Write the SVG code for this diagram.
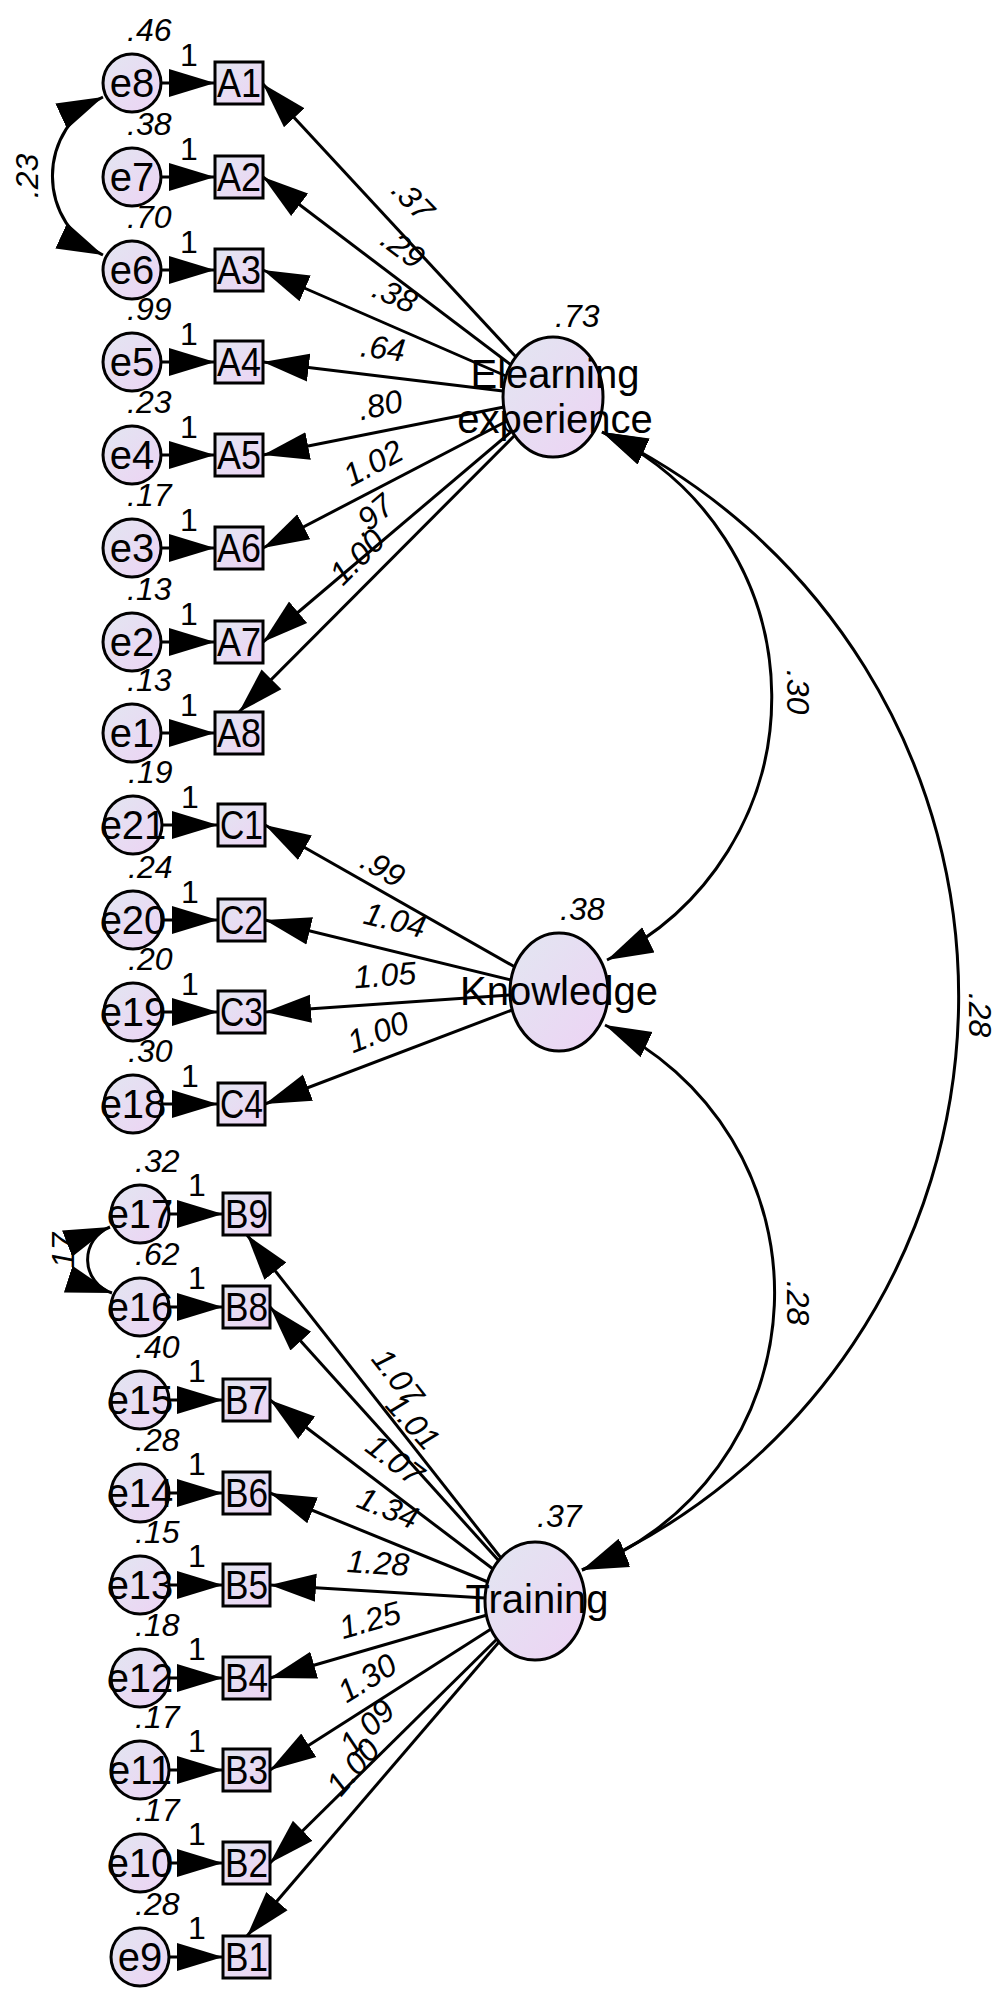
<svg xmlns="http://www.w3.org/2000/svg" width="1000" height="2001" viewBox="0 0 1000 2001">
<defs>
<linearGradient id="g" x1="0" y1="0" x2="1" y2="1">
<stop offset="0" stop-color="#e2e6f1"/>
<stop offset="1" stop-color="#edd3f4"/>
</linearGradient>
<marker id="ah" markerUnits="userSpaceOnUse" markerWidth="48" markerHeight="30" refX="46" refY="15" orient="auto-start-reverse">
<path d="M0,1 L46,15 L0,29 Z" fill="#000"/>
</marker>
</defs>
<style>
.ln{stroke:#000;stroke-width:3;fill:none;marker-end:url(#ah)}
.cv{stroke:#000;stroke-width:3;fill:none;marker-start:url(#ah);marker-end:url(#ah)}
.nd{fill:url(#g);stroke:#000;stroke-width:3}
text{font-family:"Liberation Sans",Arial,sans-serif;fill:#000}
.lb{font-size:40px;text-anchor:middle}
.nm{font-size:32px;font-style:italic}
.nc{font-size:32px;font-style:italic;text-anchor:middle}
.one{font-size:32px;text-anchor:middle}
</style>
<rect width="1000" height="2001" fill="#fff"/>

<g id="connectors">
<!-- error to indicator -->
<path class="ln" d="M161 83H215"/><path class="ln" d="M161 177H215"/><path class="ln" d="M161 270H215"/><path class="ln" d="M161 362H215"/>
<path class="ln" d="M161 455H215"/><path class="ln" d="M161 548H215"/><path class="ln" d="M161 642H215"/><path class="ln" d="M161 733H215"/>
<path class="ln" d="M162 825H218"/><path class="ln" d="M162 920H218"/><path class="ln" d="M162 1012H218"/><path class="ln" d="M162 1104H218"/>
<path class="ln" d="M169 1214H223"/><path class="ln" d="M169 1307H223"/><path class="ln" d="M169 1400H223"/><path class="ln" d="M169 1493H223"/>
<path class="ln" d="M169 1585H223"/><path class="ln" d="M169 1678H223"/><path class="ln" d="M169 1770H223"/><path class="ln" d="M169 1863H223"/><path class="ln" d="M169 1957H223"/>
<!-- Elearning loadings -->
<path class="ln" d="M516 357L263 84"/>
<path class="ln" d="M511 365L263 177"/>
<path class="ln" d="M506 376L263 270"/>
<path class="ln" d="M503 391L263 362"/>
<path class="ln" d="M504 407L263 455"/>
<path class="ln" d="M507 421L263 548"/>
<path class="ln" d="M512 431L263 642"/>
<path class="ln" d="M515 435L239 712"/>
<!-- Knowledge loadings -->
<path class="ln" d="M515 967L265 825"/>
<path class="ln" d="M511 980L265 920"/>
<path class="ln" d="M510 995L265 1012"/>
<path class="ln" d="M512 1010L265 1104"/>
<!-- Training loadings -->
<path class="ln" d="M501 1558L247 1235"/>
<path class="ln" d="M499 1561L270 1307"/>
<path class="ln" d="M493 1569L270 1400"/>
<path class="ln" d="M488 1582L270 1493"/>
<path class="ln" d="M485 1598L270 1585"/>
<path class="ln" d="M487 1615L270 1678"/>
<path class="ln" d="M491 1629L270 1770"/>
<path class="ln" d="M497 1639L270 1863"/>
<path class="ln" d="M499 1642L247 1936"/>
<!-- covariances -->
<path class="cv" d="M602 432A292 292 0 0 1 607 960"/>
<path class="cv" d="M605 1025A296 296 0 0 1 582 1570"/>
<path class="cv" d="M602 432A625 625 0 0 1 582 1570"/>
<path class="cv" d="M103 97A87 87 0 0 0 103 255"/>
<path class="cv" d="M110 1227A35 35 0 0 0 112 1293"/>
</g>

<g id="e8"><circle class="nd" cx="132" cy="83" r="29"/><text class="lb" x="132" y="97">e8</text><text class="nm" x="127" y="41">.46</text><text class="one" x="189" y="66">1</text></g>
<g id="e7"><circle class="nd" cx="132" cy="177" r="29"/><text class="lb" x="132" y="191">e7</text><text class="nm" x="127" y="135">.38</text><text class="one" x="189" y="160">1</text></g>
<g id="e6"><circle class="nd" cx="132" cy="270" r="29"/><text class="lb" x="132" y="284">e6</text><text class="nm" x="127" y="228">.70</text><text class="one" x="189" y="253">1</text></g>
<g id="e5"><circle class="nd" cx="132" cy="362" r="29"/><text class="lb" x="132" y="376">e5</text><text class="nm" x="127" y="320">.99</text><text class="one" x="189" y="345">1</text></g>
<g id="e4"><circle class="nd" cx="132" cy="455" r="29"/><text class="lb" x="132" y="469">e4</text><text class="nm" x="127" y="413">.23</text><text class="one" x="189" y="438">1</text></g>
<g id="e3"><circle class="nd" cx="132" cy="548" r="29"/><text class="lb" x="132" y="562">e3</text><text class="nm" x="127" y="506">.17</text><text class="one" x="189" y="531">1</text></g>
<g id="e2"><circle class="nd" cx="132" cy="642" r="29"/><text class="lb" x="132" y="656">e2</text><text class="nm" x="127" y="600">.13</text><text class="one" x="189" y="625">1</text></g>
<g id="e1"><circle class="nd" cx="132" cy="733" r="29"/><text class="lb" x="132" y="747">e1</text><text class="nm" x="127" y="691">.13</text><text class="one" x="189" y="716">1</text></g>
<g id="e21"><circle class="nd" cx="133" cy="825" r="29"/><text class="lb" x="133" y="839">e21</text><text class="nm" x="128" y="783">.19</text><text class="one" x="190" y="808">1</text></g>
<g id="e20"><circle class="nd" cx="133" cy="920" r="29"/><text class="lb" x="133" y="934">e20</text><text class="nm" x="128" y="878">.24</text><text class="one" x="190" y="903">1</text></g>
<g id="e19"><circle class="nd" cx="133" cy="1012" r="29"/><text class="lb" x="133" y="1026">e19</text><text class="nm" x="128" y="970">.20</text><text class="one" x="190" y="995">1</text></g>
<g id="e18"><circle class="nd" cx="133" cy="1104" r="29"/><text class="lb" x="133" y="1118">e18</text><text class="nm" x="128" y="1062">.30</text><text class="one" x="190" y="1087">1</text></g>
<g id="e17"><circle class="nd" cx="140" cy="1214" r="29"/><text class="lb" x="140" y="1228">e17</text><text class="nm" x="135" y="1172">.32</text><text class="one" x="197" y="1196">1</text></g>
<g id="e16"><circle class="nd" cx="140" cy="1307" r="29"/><text class="lb" x="140" y="1321">e16</text><text class="nm" x="135" y="1265">.62</text><text class="one" x="197" y="1289">1</text></g>
<g id="e15"><circle class="nd" cx="140" cy="1400" r="29"/><text class="lb" x="140" y="1414">e15</text><text class="nm" x="135" y="1358">.40</text><text class="one" x="197" y="1382">1</text></g>
<g id="e14"><circle class="nd" cx="140" cy="1493" r="29"/><text class="lb" x="140" y="1507">e14</text><text class="nm" x="135" y="1451">.28</text><text class="one" x="197" y="1475">1</text></g>
<g id="e13"><circle class="nd" cx="140" cy="1585" r="29"/><text class="lb" x="140" y="1599">e13</text><text class="nm" x="135" y="1543">.15</text><text class="one" x="197" y="1567">1</text></g>
<g id="e12"><circle class="nd" cx="140" cy="1678" r="29"/><text class="lb" x="140" y="1692">e12</text><text class="nm" x="135" y="1636">.18</text><text class="one" x="197" y="1660">1</text></g>
<g id="e11"><circle class="nd" cx="140" cy="1770" r="29"/><text class="lb" x="140" y="1784">e11</text><text class="nm" x="135" y="1728">.17</text><text class="one" x="197" y="1752">1</text></g>
<g id="e10"><circle class="nd" cx="140" cy="1863" r="29"/><text class="lb" x="140" y="1877">e10</text><text class="nm" x="135" y="1821">.17</text><text class="one" x="197" y="1845">1</text></g>
<g id="e9"><circle class="nd" cx="140" cy="1957" r="29"/><text class="lb" x="140" y="1971">e9</text><text class="nm" x="135" y="1915">.28</text><text class="one" x="197" y="1939">1</text></g>

<g id="A1"><rect class="nd" x="215" y="62" width="48" height="42"/><text class="lb" x="239" y="97" textLength="44" lengthAdjust="spacingAndGlyphs">A1</text></g>
<g id="A2"><rect class="nd" x="215" y="156" width="48" height="42"/><text class="lb" x="239" y="191" textLength="44" lengthAdjust="spacingAndGlyphs">A2</text></g>
<g id="A3"><rect class="nd" x="215" y="249" width="48" height="42"/><text class="lb" x="239" y="284" textLength="44" lengthAdjust="spacingAndGlyphs">A3</text></g>
<g id="A4"><rect class="nd" x="215" y="341" width="48" height="42"/><text class="lb" x="239" y="376" textLength="44" lengthAdjust="spacingAndGlyphs">A4</text></g>
<g id="A5"><rect class="nd" x="215" y="434" width="48" height="42"/><text class="lb" x="239" y="469" textLength="44" lengthAdjust="spacingAndGlyphs">A5</text></g>
<g id="A6"><rect class="nd" x="215" y="527" width="48" height="42"/><text class="lb" x="239" y="562" textLength="44" lengthAdjust="spacingAndGlyphs">A6</text></g>
<g id="A7"><rect class="nd" x="215" y="621" width="48" height="42"/><text class="lb" x="239" y="656" textLength="44" lengthAdjust="spacingAndGlyphs">A7</text></g>
<g id="A8"><rect class="nd" x="215" y="712" width="48" height="42"/><text class="lb" x="239" y="747" textLength="44" lengthAdjust="spacingAndGlyphs">A8</text></g>
<g id="C1"><rect class="nd" x="218" y="804" width="47" height="42"/><text class="lb" x="241.5" y="839" textLength="43" lengthAdjust="spacingAndGlyphs">C1</text></g>
<g id="C2"><rect class="nd" x="218" y="899" width="47" height="42"/><text class="lb" x="241.5" y="934" textLength="43" lengthAdjust="spacingAndGlyphs">C2</text></g>
<g id="C3"><rect class="nd" x="218" y="991" width="47" height="42"/><text class="lb" x="241.5" y="1026" textLength="43" lengthAdjust="spacingAndGlyphs">C3</text></g>
<g id="C4"><rect class="nd" x="218" y="1083" width="47" height="42"/><text class="lb" x="241.5" y="1118" textLength="43" lengthAdjust="spacingAndGlyphs">C4</text></g>
<g id="B9"><rect class="nd" x="223" y="1193" width="47" height="42"/><text class="lb" x="246.5" y="1228" textLength="43" lengthAdjust="spacingAndGlyphs">B9</text></g>
<g id="B8"><rect class="nd" x="223" y="1286" width="47" height="42"/><text class="lb" x="246.5" y="1321" textLength="43" lengthAdjust="spacingAndGlyphs">B8</text></g>
<g id="B7"><rect class="nd" x="223" y="1379" width="47" height="42"/><text class="lb" x="246.5" y="1414" textLength="43" lengthAdjust="spacingAndGlyphs">B7</text></g>
<g id="B6"><rect class="nd" x="223" y="1472" width="47" height="42"/><text class="lb" x="246.5" y="1507" textLength="43" lengthAdjust="spacingAndGlyphs">B6</text></g>
<g id="B5"><rect class="nd" x="223" y="1564" width="47" height="42"/><text class="lb" x="246.5" y="1599" textLength="43" lengthAdjust="spacingAndGlyphs">B5</text></g>
<g id="B4"><rect class="nd" x="223" y="1657" width="47" height="42"/><text class="lb" x="246.5" y="1692" textLength="43" lengthAdjust="spacingAndGlyphs">B4</text></g>
<g id="B3"><rect class="nd" x="223" y="1749" width="47" height="42"/><text class="lb" x="246.5" y="1784" textLength="43" lengthAdjust="spacingAndGlyphs">B3</text></g>
<g id="B2"><rect class="nd" x="223" y="1842" width="47" height="42"/><text class="lb" x="246.5" y="1877" textLength="43" lengthAdjust="spacingAndGlyphs">B2</text></g>
<g id="B1"><rect class="nd" x="223" y="1936" width="47" height="42"/><text class="lb" x="246.5" y="1971" textLength="43" lengthAdjust="spacingAndGlyphs">B1</text></g>

<g id="Elearning"><ellipse class="nd" cx="553" cy="397" rx="50" ry="60"/><text class="lb" x="555" y="388">Elearning</text><text class="lb" x="555" y="433">experience</text><text class="nm" x="555" y="327">.73</text></g>
<g id="Knowledge"><ellipse class="nd" cx="559" cy="992" rx="49" ry="59"/><text class="lb" x="559" y="1005">Knowledge</text><text class="nm" x="560" y="920">.38</text></g>
<g id="Training"><ellipse class="nd" cx="535" cy="1601" rx="50" ry="59"/><text class="lb" x="537" y="1613">Training</text><text class="nm" x="537" y="1527">.37</text></g>

<g id="estimates">
<text class="nc" transform="translate(413,200) rotate(46)" y="11">.37</text>
<text class="nc" transform="translate(403,248) rotate(37)" y="11">.29</text>
<text class="nc" transform="translate(395,295) rotate(24)" y="11">.38</text>
<text class="nc" transform="translate(383,348) rotate(7)" y="11">.64</text>
<text class="nc" transform="translate(380,405) rotate(-12)" y="11">.80</text>
<text class="nc" transform="translate(373,463) rotate(-28)" y="11">1.02</text>
<text class="nc" transform="translate(372,515) rotate(-40)" y="11">.97</text>
<text class="nc" transform="translate(357,557) rotate(-45)" y="11">1.00</text>
<text class="nc" transform="translate(383,868) rotate(30)" y="11">.99</text>
<text class="nc" transform="translate(395,920) rotate(14)" y="11">1.04</text>
<text class="nc" transform="translate(385,975) rotate(-4)" y="11">1.05</text>
<text class="nc" transform="translate(378,1032) rotate(-21)" y="11">1.00</text>
<text class="nc" transform="translate(398,1377) rotate(52)" y="11">1.07</text>
<text class="nc" transform="translate(413,1422) rotate(48)" y="11">1.01</text>
<text class="nc" transform="translate(395,1460) rotate(37)" y="11">1.07</text>
<text class="nc" transform="translate(388,1508) rotate(22)" y="11">1.34</text>
<text class="nc" transform="translate(378,1563) rotate(3.5)" y="11">1.28</text>
<text class="nc" transform="translate(370,1620) rotate(-16)" y="11">1.25</text>
<text class="nc" transform="translate(367,1678) rotate(-32)" y="11">1.30</text>
<text class="nc" transform="translate(367,1727) rotate(-45)" y="11">1.09</text>
<text class="nc" transform="translate(353,1767) rotate(-49)" y="11">1.00</text>
<text class="nc" transform="translate(798,692) rotate(90)" y="11">.30</text>
<text class="nc" transform="translate(798,1303) rotate(90)" y="11">.28</text>
<text class="nc" transform="translate(980,1015) rotate(90)" y="11">.28</text>
<text class="nc" transform="translate(27,176) rotate(-90)" y="11">.23</text>
<text class="nc" transform="translate(63,1255) rotate(-90)" y="11">.17</text>
</g>
</svg>
